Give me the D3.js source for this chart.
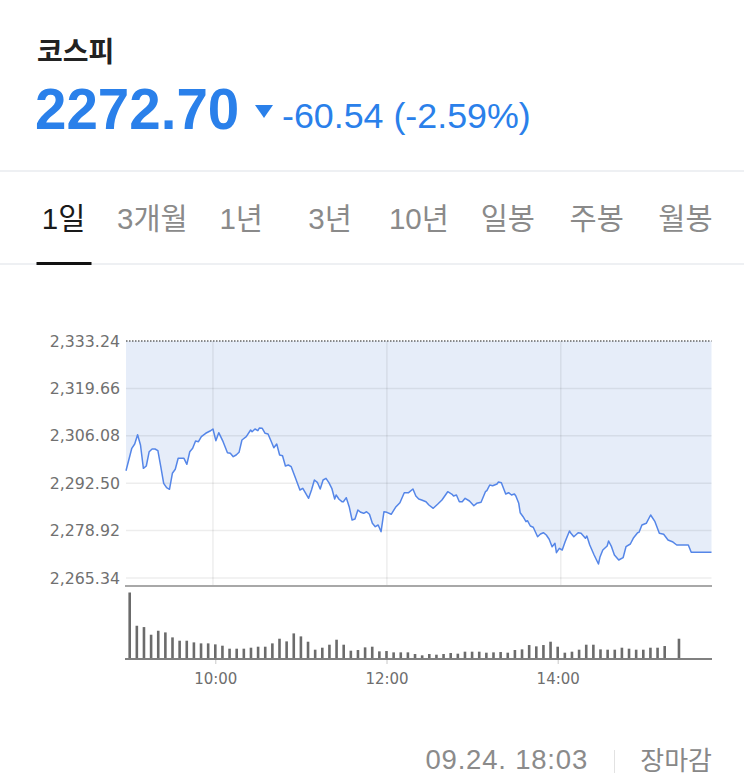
<!DOCTYPE html>
<html lang="ko">
<head>
    <meta charset="UTF-8">
    <title>코스피 - 1일</title>
    <style>
        body{ margin:0; background:#fff; }
        svg{ display:block; }
        text{ font-family:"Liberation Sans","Noto Sans CJK KR",sans-serif; }
        .chart text{ font-family:"DejaVu Sans",sans-serif; }
    </style>
</head>
<body>
<script src="https://cdn.jsdelivr.net/npm/d3@7"></script>
<script>
    // index du jour
    const nomIndice = "코스피";
    const cloture = 2272.70;
    const veille = 2333.24;
    const variation = -60.54;
    const variationPct = -2.59;
    const onglets = ["1일","3개월","1년","3년","10년","일봉","주봉","월봉"];
    const ongletActif = "1일";
    const dateMaj = "09.24. 18:03";
    const statut = "장마감";

    // cours minute
    const heures = ["09:00","09:04","09:06","09:08","09:10","09:12","09:14","09:16","09:18","09:20","09:22","09:24","09:26","09:28","09:30","09:32","09:34","09:36","09:40","09:42","09:44","09:46","09:48","09:50","09:52","09:55","09:58",
        "10:00","10:02","10:04","10:07","10:10","10:12","10:14","10:16","10:18","10:20","10:23","10:26","10:27","10:29","10:31","10:32","10:34","10:36","10:38","10:40","10:42","10:44","10:46","10:48","10:50","10:52","10:54","10:57",
        "11:00","11:02","11:06","11:08","11:10","11:12","11:14","11:16","11:18","11:20","11:22","11:24","11:25","11:27","11:29","11:30","11:32","11:34","11:36","11:38","11:40","11:42","11:44","11:46","11:48","11:50","11:52","11:54","11:56","11:58",
        "12:00","12:03","12:06","12:09","12:12","12:15","12:18","12:20","12:22","12:24","12:27","12:29","12:32","12:35","12:38","12:42","12:45","12:46","12:48","12:50","12:52","12:54","12:57",
        "13:00","13:02","13:05","13:08","13:09","13:11","13:13","13:16","13:17","13:19","13:22","13:24","13:26","13:28","13:29","13:31","13:32","13:34","13:36","13:37","13:39","13:41","13:44","13:46","13:48","13:50","13:52","13:54","13:56","13:57","13:59",
        "14:01","14:03","14:06","14:07","14:09","14:12","14:14","14:17","14:18","14:20","14:23","14:26","14:27","14:29","14:32","14:33","14:35","14:37","14:40","14:43","14:45","14:48","14:50","14:53","14:54","14:56","14:59",
        "15:02","15:05","15:08","15:11","15:14","15:17","15:20","15:28","15:30","15:44"];
    const cours = [2296.08,2302.50,2303.73,2306.39,2303.44,2296.77,2297.43,2301.52,2302.30,2302.30,2301.81,2297.23,2292.47,2291.21,2290.75,2295.34,2296.48,2299.63,2299.63,2297.91,2301.52,2302.50,2304.59,2304.39,2305.82,2306.80,2307.45,
        2308.03,2304.68,2306.97,2304.39,2301.24,2301.07,2300.09,2300.58,2301.35,2304.88,2305.82,2307.74,2307.25,2308.03,2307.54,2308.31,2308.22,2306.80,2306.60,2304.68,2302.67,2303.73,2300.58,2300.38,2297.43,2297.71,2297.23,2293.90,
        2290.55,2291.04,2288.17,2290.55,2293.42,2292.76,2290.84,2293.42,2293.90,2292.64,2291.04,2287.97,2289.12,2287.89,2287.20,2287.20,2288.35,2285.77,2281.96,2282.24,2284.82,2284.16,2283.88,2284.33,2283.59,2281.01,2280.04,2280.52,2278.60,2284.33,
        2284.16,2283.59,2285.60,2286.91,2289.78,2289.78,2290.84,2288.83,2287.97,2287.69,2287.20,2286.25,2285.31,2286.45,2287.69,2290.06,2289.32,2288.83,2289.12,2287.20,2287.20,2288.17,2287.40,
        2286.05,2286.74,2287.03,2290.06,2290.35,2291.98,2291.78,2292.27,2292.84,2292.64,2289.41,2289.78,2289.12,2289.41,2288.83,2286.74,2284.05,2282.90,2281.47,2281.76,2280.24,2279.87,2277.17,2277.95,2278.32,2277.66,2276.43,2274.31,2275.28,2272.59,2273.85,
        2273.36,2275.74,2278.80,2278.15,2277.17,2278.32,2278.15,2276.71,2277.37,2274.79,2271.93,2269.35,2271.27,2273.36,2274.51,2275.94,2274.31,2271.93,2270.50,2271.16,2274.31,2275.08,2276.71,2278.32,2278.43,2280.52,2281.01,
        2283.39,2281.47,2278.15,2277.86,2276.23,2275.74,2274.79,2274.79,2272.70,2272.70];

    // volumes 5 minutes
    const heuresVolume = ["09:00","09:05","09:10","09:15","09:20","09:25","09:30","09:35","09:40","09:45","09:50","09:55",
        "10:00","10:05","10:10","10:15","10:20","10:25","10:30","10:35","10:40","10:45","10:50","10:55",
        "11:00","11:05","11:10","11:15","11:20","11:25","11:30","11:35","11:40","11:45","11:50","11:55",
        "12:00","12:05","12:10","12:15","12:20","12:25","12:30","12:35","12:40","12:45","12:50","12:55",
        "13:00","13:05","13:10","13:15","13:20","13:25","13:30","13:35","13:40","13:45","13:50","13:55",
        "14:00","14:05","14:10","14:15","14:20","14:25","14:30","14:35","14:40","14:45","14:50","14:55",
        "15:00","15:05","15:10","15:15","15:25"];
    const volumes = [200,100,96,73,85,80,65,55,55,50,47,47,
        44,40,31,31,31,34,37,37,47,61,53,77,
        68,52,28,34,43,58,43,25,27,35,37,23,
        24,20,20,20,15,11,15,13,15,18,16,22,
        22,22,19,20,21,19,27,29,42,38,42,52,
        37,19,22,28,43,43,29,28,28,34,31,28,
        28,34,34,39,61];

    const ticksY = [2265.34,2278.92,2292.50,2306.08,2319.66,2333.24];
    const ticksX = ["10:00","12:00","14:00"];

    const parseH = d3.timeParse("%H:%M");
    const donnees = heures.map((h,i) => ({t: parseH(h), v: cours[i]}));
    const donneesVol = heuresVolume.map((h,i) => ({t: parseH(h), v: volumes[i]}));

    const bleu = "#2a80ea";

    let svg = d3.select("body").append("svg")
        .attr("width",744)
        .attr("height",779);

    // en-tete
    svg.append("text").attr("x",37).attr("y",62)
        .style("font-size","28px").style("font-weight","bold").style("fill","#222")
        .text(nomIndice);
    svg.append("text").attr("x",35).attr("y",129)
        .style("font-size","56.5px").style("font-weight","bold").style("fill",bleu)
        .text(cloture.toFixed(2));
    svg.append("path").attr("d","M255,105 L273,105 L264,118 Z").attr("fill",bleu);
    svg.append("text").attr("x",282).attr("y",128)
        .style("font-size","35.8px").style("fill",bleu)
        .text(`${variation.toFixed(2)} (${variationPct.toFixed(2)}%)`);

    svg.append("rect").attr("x",0).attr("y",170).attr("width",744).attr("height",2).attr("fill","#eef0f3");

    // onglets
    let xOnglet = d3.scalePoint().domain(onglets).range([63.5,685.5]);
    svg.append("g").selectAll("text")
        .data(onglets)
        .enter()
        .append("text")
            .attr("x",d => xOnglet(d))
            .attr("y",229)
            .attr("text-anchor","middle")
            .style("font-size","29.5px")
            .style("fill",d => d === ongletActif ? "#1a1a1a" : "#8a8a8a")
            .text(d => d);
    svg.append("rect").attr("x",0).attr("y",263).attr("width",744).attr("height",2).attr("fill","#eef0f3");
    svg.append("rect").attr("x",xOnglet(ongletActif)-27).attr("y",262).attr("width",55).attr("height",3).attr("fill","#111");

    // graphique des cours
    let chart = svg.append("g").attr("class","chart");
    let x = d3.scaleTime().domain([parseH("09:00"),parseH("15:44")]).range([126,711.5]);
    let y = d3.scaleLinear().domain([2265.34,2333.24]).range([578,341]);

    let aire = d3.area().x(d => x(d.t)).y0(y(veille)).y1(d => y(d.v));
    chart.append("path").datum(donnees).attr("d",aire).attr("fill","#e6edf9");

    chart.append("g").selectAll("line")
        .data(ticksY.slice(0,-1))
        .enter()
        .append("line")
            .attr("x1",126).attr("x2",711.5)
            .attr("y1",d => y(d)).attr("y2",d => y(d))
            .attr("stroke","rgba(0,0,0,0.07)").attr("stroke-width",1.5);
    chart.append("g").selectAll("line")
        .data(ticksX)
        .enter()
        .append("line")
            .attr("x1",d => x(parseH(d))).attr("x2",d => x(parseH(d)))
            .attr("y1",341).attr("y2",586)
            .attr("stroke","rgba(0,0,0,0.07)").attr("stroke-width",1.5);

    chart.append("line")
        .attr("x1",126).attr("x2",711.5)
        .attr("y1",y(veille)).attr("y2",y(veille))
        .attr("stroke","#666").attr("stroke-width",1.5).attr("stroke-dasharray","1.5,1.5");

    let ligne = d3.line().x(d => x(d.t)).y(d => y(d.v));
    chart.append("path").datum(donnees).attr("d",ligne)
        .attr("fill","none").attr("stroke","#5586e8").attr("stroke-width",1.5).attr("stroke-linejoin","round");

    chart.append("g").selectAll("text")
        .data(ticksY)
        .enter()
        .append("text")
            .attr("x",120)
            .attr("y",d => y(d))
            .attr("dy","0.36em")
            .attr("text-anchor","end")
            .style("font-size","15.8px")
            .style("fill","#707070")
            .text(d => d3.format(",.2f")(d));

    chart.append("rect").attr("x",125).attr("y",585).attr("width",587).attr("height",2).attr("fill","#a8a8a8");

    // volumes
    let xv = d3.scaleTime().domain([parseH("09:00"),parseH("15:45")]).range([129.7,707.5]);
    let yv = d3.scaleLinear().domain([0,d3.max(volumes)]).range([659,592.5]);

    chart.append("g").selectAll("rect")
        .data(donneesVol)
        .enter()
        .append("rect")
            .attr("x",d => xv(d.t)-1.3)
            .attr("y",d => yv(d.v))
            .attr("width",2.6)
            .attr("height",d => yv(0)-yv(d.v))
            .attr("fill","#6b6b6b");

    let axeX = chart.append("g")
        .attr("transform","translate(0,660)")
        .call(d3.axisBottom(xv).tickValues(ticksX.map(parseH)).tickFormat(d3.timeFormat("%H:%M")).tickSize(4).tickPadding(9));
    axeX.select(".domain").remove();
    axeX.selectAll("line").attr("stroke","#c8c8c8");
    axeX.selectAll("text").style("font-size","15px").style("fill","#6e6e6e").attr("font-family",null);

    chart.append("rect").attr("x",125).attr("y",658).attr("width",587).attr("height",2).attr("fill","#808080");

    // pied
    svg.append("text").attr("x",588).attr("y",769).attr("text-anchor","end")
        .style("font-size","27.5px").style("fill","#8b8b8b").style("letter-spacing","0.8px")
        .text(dateMaj);
    svg.append("line").attr("x1",614.5).attr("x2",614.5).attr("y1",750).attr("y2",773)
        .attr("stroke","#e2e2e2").attr("stroke-width",1);
    svg.append("text").attr("x",712).attr("y",770).attr("text-anchor","end")
        .style("font-size","26px").style("fill","#888")
        .text(statut);
</script>
</body>
</html>
